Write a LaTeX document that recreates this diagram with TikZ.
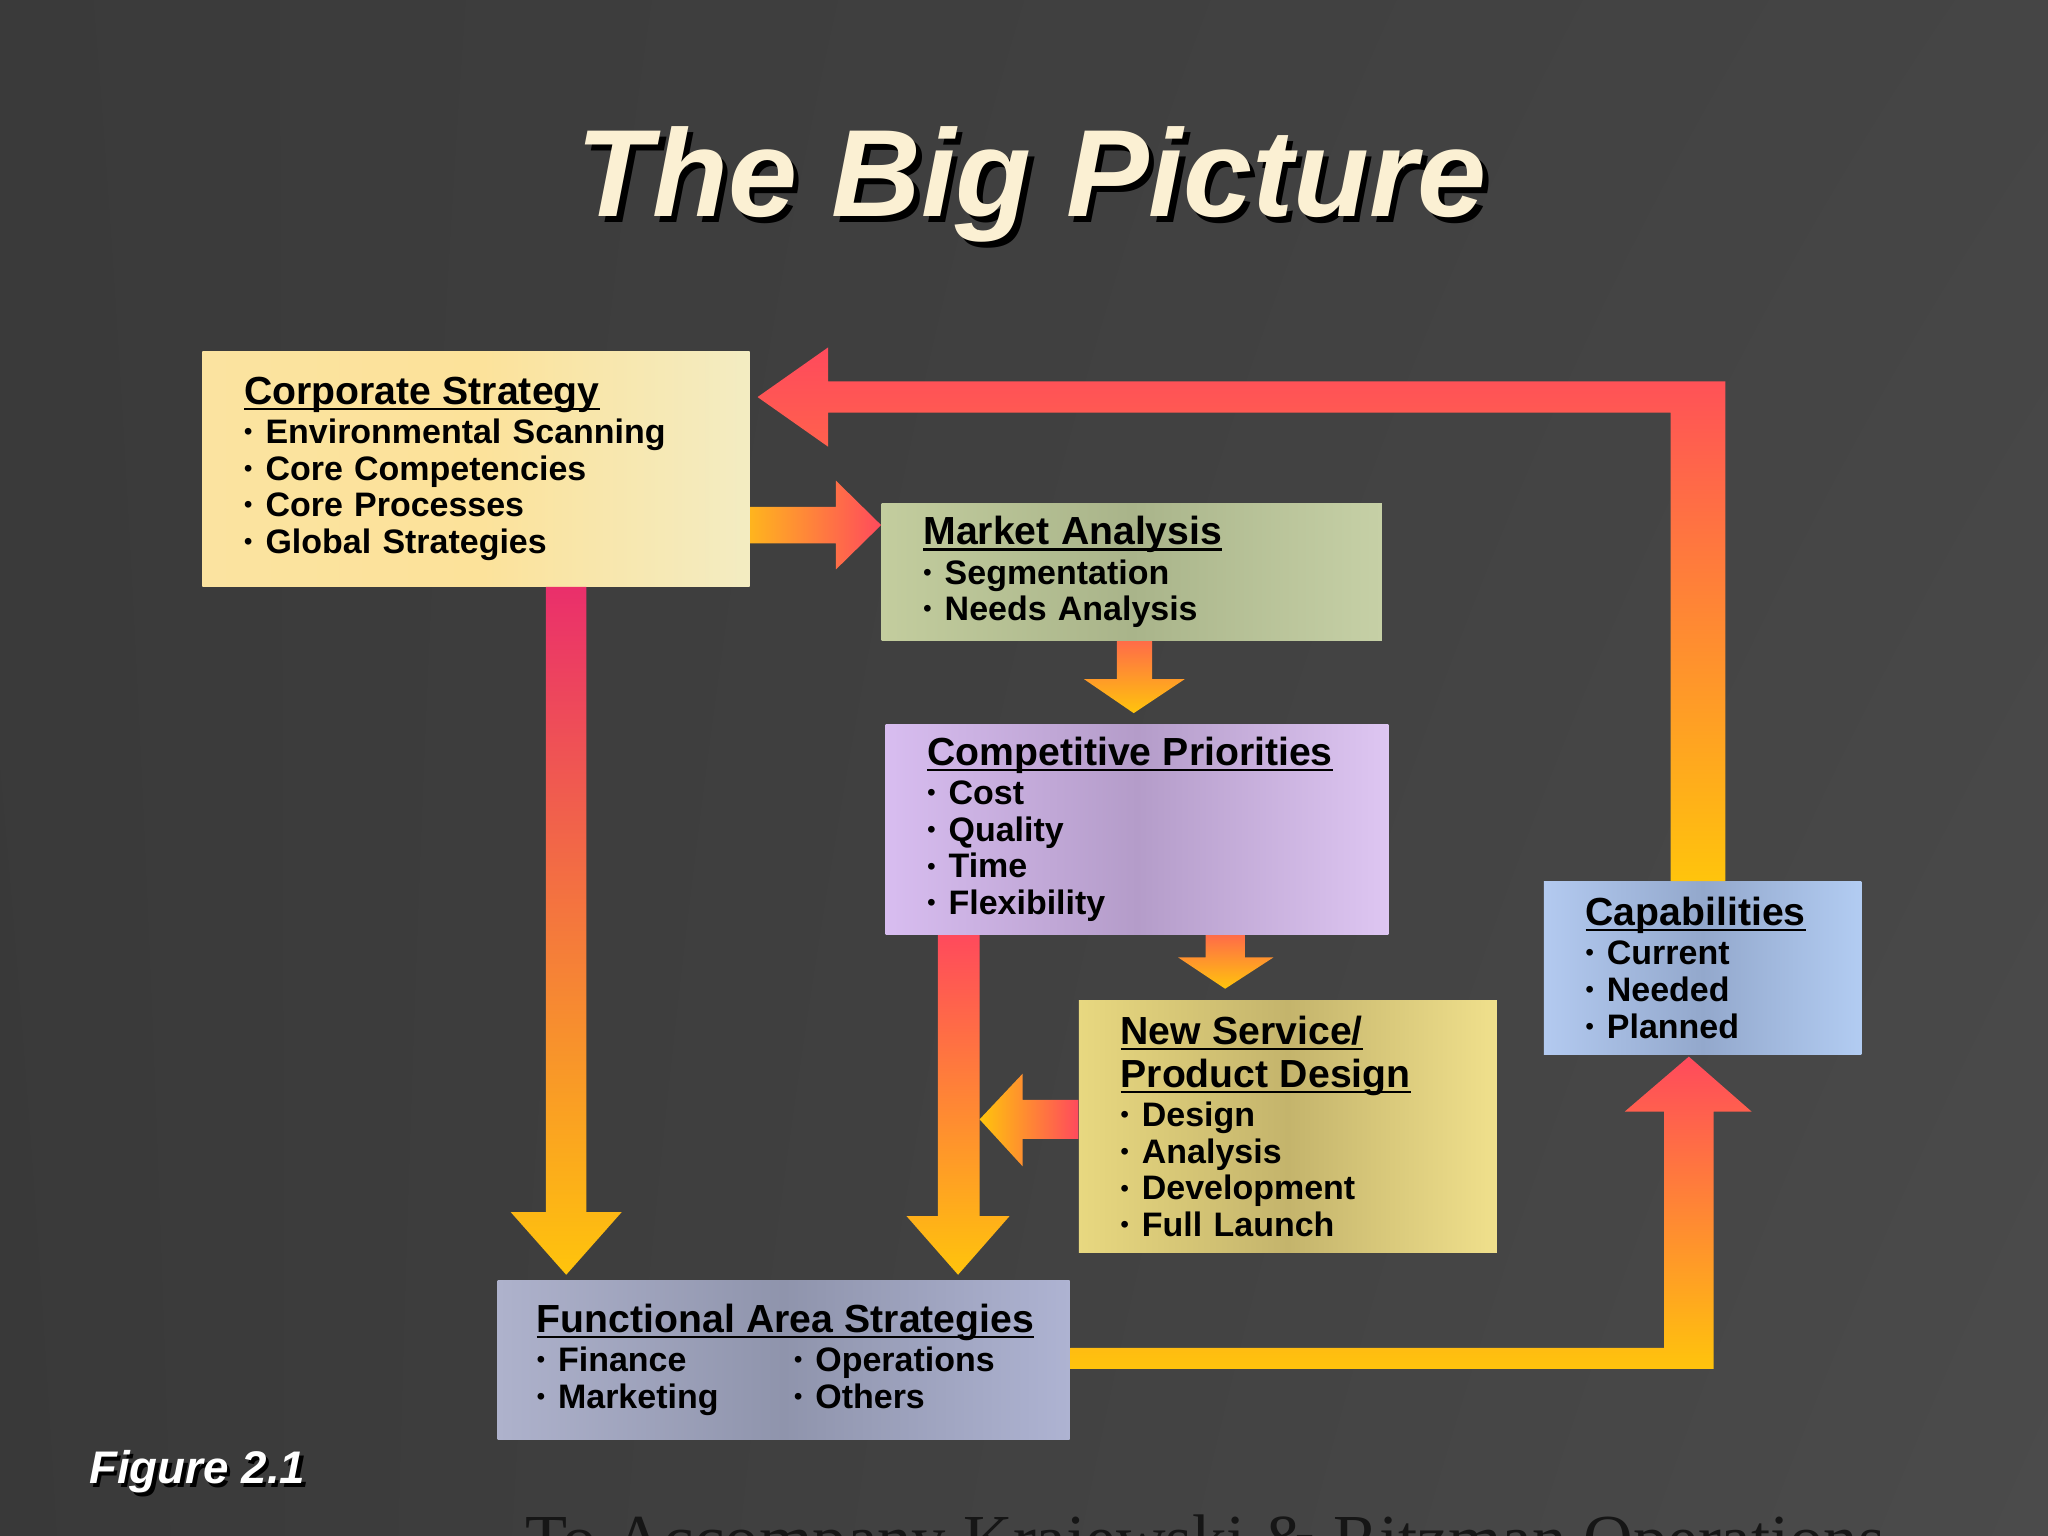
\documentclass[tikz,border=0pt]{standalone}
\usepackage{fontspec}
\setmainfont{Liberation Sans}
\newfontfamily\serifface{Liberation Serif}
\usetikzlibrary{shadings}

\definecolor{bgtl}{HTML}{3A3A3A}
\definecolor{bgtr}{HTML}{454545}
\definecolor{bgbl}{HTML}{393939}
\definecolor{bgbr}{HTML}{4B4B4B}
\definecolor{titlecream}{HTML}{FBF0D3}
\definecolor{footgray}{HTML}{161616}
\definecolor{arrred}{HTML}{FF4A5C}
\definecolor{arrmag}{HTML}{EA2F6B}
\definecolor{arrcoral}{HTML}{FF6C48}
\definecolor{arrgold}{HTML}{FFC40C}
\definecolor{arramber}{HTML}{FFB41E}
\definecolor{corpA}{HTML}{FBE3A0}
\definecolor{corpB}{HTML}{FCE29A}
\definecolor{corpC}{HTML}{F3ECC2}
\definecolor{mktA}{HTML}{C3CD9E}
\definecolor{mktB}{HTML}{A9B48A}
\definecolor{mktC}{HTML}{C6D0A6}
\definecolor{compA}{HTML}{D8BDF0}
\definecolor{compB}{HTML}{B49CC9}
\definecolor{compC}{HTML}{DEC6F2}
\definecolor{nsA}{HTML}{E8D880}
\definecolor{nsB}{HTML}{C4B46C}
\definecolor{nsC}{HTML}{F0E08C}
\definecolor{capA}{HTML}{B3CAF0}
\definecolor{capB}{HTML}{93A8CC}
\definecolor{capC}{HTML}{B2CCF2}
\definecolor{funcA}{HTML}{AEB2CC}
\definecolor{funcB}{HTML}{8F94AC}
\definecolor{funcC}{HTML}{AEB3D2}

\newcommand{\boxhead}[1]{\leavevmode{\fontsize{15}{16.5}\selectfont\setbox0\hbox{#1}\rlap{\rule[-2.2pt]{\wd0}{1pt}}\box0}}
\newcommand{\itm}{\leavevmode\raisebox{1.5pt}{\fontsize{9}{9}\selectfont •}\hspace{5pt}}

\begin{document}
\begin{tikzpicture}[x=0.5pt, y=-0.5pt, box/.style={rectangle, inner xsep=16pt, inner ysep=0pt, align=left, font=\bfseries\fontsize{13}{14}\selectfont}, headline/.style={font=\bfseries\itshape\fontsize{47.5}{50}\selectfont, anchor=base}, figlabel/.style={font=\bfseries\itshape\fontsize{17.5}{20}\selectfont, anchor=base west, inner sep=0pt}]

  \useasboundingbox (0,0) rectangle (1568,1176);
  \clip (0,0) rectangle (1568,1176);
  \shade[upper left=bgtl, upper right=bgtr, lower left=bgbl, lower right=bgbr] (0,0) rectangle (1568,1176);

  \node[headline, text=black] (titleshadow) at (794,170) {The Big Picture};
  \node[headline, text=titlecream] (title) at (790,166) {The Big Picture};

  \node[box, text width=177.5pt, minimum height=90pt, left color=corpA, right color=corpC, middle color=corpB] (corp) at (364.5,359) {\boxhead{Corporate Strategy}\\[1pt]
    \itm Environmental Scanning\\
    \itm Core Competencies\\
    \itm Core Processes\\
    \itm Global Strategies};
  \node[box, text width=159.5pt, minimum height=52.5pt, left color=mktA, right color=mktC, middle color=mktB] (market) at (866.5,438) {\boxhead{Market Analysis}\\[1pt]
    \itm Segmentation\\
    \itm Needs Analysis};
  \node[box, text width=160.5pt, minimum height=80.5pt, left color=compA, right color=compC, middle color=compB] (comp) at (870.5,635) {\boxhead{Competitive Priorities}\\[1pt]
    \itm Cost\\
    \itm Quality\\
    \itm Time\\
    \itm Flexibility};
  \node[box, text width=128pt, minimum height=96.5pt, left color=nsA, right color=nsC, middle color=nsB] (newserv) at (986,862.5) {\boxhead{New Service/}\\[2.5pt]
    \boxhead{Product Design}\\[1pt]
    \itm Design\\
    \itm Analysis\\
    \itm Development\\
    \itm Full Launch};
  \node[box, text width=89.5pt, minimum height=66pt, left color=capA, right color=capC, middle color=capB] (cap) at (1303.5,741) {\boxhead{Capabilities}\\[1pt]
    \itm Current\\
    \itm Needed\\
    \itm Planned};
  \node[box, inner xsep=15pt, text width=189pt, minimum height=61pt, left color=funcA, right color=funcC, middle color=funcB] (func) at (600,1041) {\boxhead{Functional Area Strategies}\\[1pt]
    \makebox[98.5pt][l]{\itm Finance}\itm Operations\\
    \makebox[98.5pt][l]{\itm Marketing}\itm Others};

  \shade[left color=arramber, right color=arrred] (corp.east |- 0,388) -| (640,368) -- (market.west |- 0,402) -- (640,436) |- (corp.east |- 0,416) -- cycle;
  \shade[top color=arrcoral, bottom color=arrgold] (855,0 |- market.south) -- (855,520) -- (830,520) -- (868,546) -- (907,520) -- (882,520) -- (882,0 |- market.south) -- cycle;
  \shade[top color=arrcoral, bottom color=arrgold] (923,0 |- comp.south) -- (923,733) -- (902,733) -- (938,757) -- (975,733) -- (953,733) -- (953,0 |- comp.south) -- cycle;
  \shade[top color=arrred, bottom color=arrgold] (718,0 |- comp.south) -- (718,931) -- (694,931) -- (733.5,976) -- (773,931) -- (750,931) -- (750,0 |- comp.south) -- cycle;
  \shade[top color=arrmag, bottom color=arrgold] (418,0 |- corp.south) -- (418,928) -- (391,928) -- (433.5,976) -- (476,928) -- (449,928) -- (449,0 |- corp.south) -- cycle;
  \shade[left color=arrgold, right color=arrred] (newserv.west |- 0,842) -- (783,842) -- (783,822) -- (750,857) -- (783,893) -- (783,872) -- (newserv.west |- 0,872) -- cycle;
  \shade[top color=arrred, bottom color=arrgold] (1279,0 |- cap.north) -- (1279,316) -- (634,316) -- (634,342) -- (580,304) -- (634,266) -- (634,292) -- (1321,292) -- (1321,0 |- cap.north) -- cycle;
  \shade[top color=arrred, bottom color=arrgold] (func.east |- 0,1032) -- (1274,1032) -- (1274,851) -- (1244,851) -- (1293,809) -- (1341,851) -- (1312,851) -- (1312,1048) -- (func.east |- 0,1048) -- cycle;

  \node[figlabel, text=black] (figshadow) at (70.5,1138.5) {Figure 2.1};
  \node[figlabel, text=white] (fig) at (68,1136) {Figure 2.1};
  \node[font=\serifface\fontsize{26.3}{28}\selectfont, anchor=base west, inner sep=0pt, text=footgray] (source) at (402,1196) {To Accompany Krajewski \& Ritzman Operations};
\end{tikzpicture}
\end{document}
